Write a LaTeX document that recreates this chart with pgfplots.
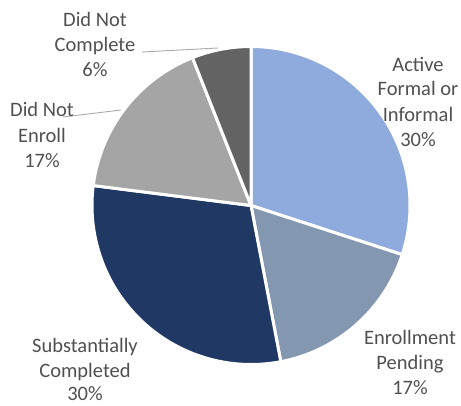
\documentclass[border=0pt]{standalone}
\usepackage{pgfplots}
\usepackage{pgfplotstable}
\pgfplotsset{compat=1.18}
\usepackage{fontspec}
\setmainfont{Carlito}
\definecolor{slice0}{HTML}{8FAADC}
\definecolor{slice1}{HTML}{8497B0}
\definecolor{slice2}{HTML}{203864}
\definecolor{slice3}{HTML}{A5A5A5}
\definecolor{slice4}{HTML}{636363}
\definecolor{txt}{HTML}{505050}
\pgfplotstableread{
label value
Active 30
Pending 17
Completed 30
NotEnroll 17
NotComplete 6
}\piedata
\begin{document}
\begin{tikzpicture}
\begin{axis}[
  scale only axis, width=461pt, height=405pt,
  xmin=0, xmax=461, ymin=0, ymax=405,
  hide axis, clip=false,
]
\path (axis cs:0,0) rectangle (axis cs:461,405);
\def\cum{0}
\pgfplotsforeachungrouped \i in {0,...,4} {
  \pgfplotstablegetelem{\i}{value}\of\piedata
  \let\v\pgfplotsretval
  \pgfmathsetmacro\sa{90-3.6*\cum}
  \pgfmathsetmacro\ea{\sa-3.6*\v}
  \edef\cmd{\noexpand\filldraw[fill=slice\i, draw=white, line width=3pt, line join=round]
    (axis cs:251,199.5) -- ++(\sa:159pt) arc[start angle=\sa, end angle=\ea, radius=159pt] -- cycle;}
  \cmd
  \pgfmathsetmacro\newcum{\cum+\v}
  \global\let\cum\newcum
}
\draw[color=black!33, line width=0.9pt] (axis cs:142,353) -- (axis cs:218,357);
\draw[color=black!33, line width=0.9pt] (axis cs:63,288) -- (axis cs:121,295);
\begin{scope}[every node/.style={anchor=base, text=txt, font=\fontsize{20.5}{25}\selectfont, inner sep=0pt}]
% Active
\node at (axis cs:418,333) {Active};
\node at (axis cs:418,309) {Formal or};
\node at (axis cs:418,283.5) {Informal};
\node at (axis cs:418,258) {30\%};
% Enrollment Pending
\node at (axis cs:410,61) {Enrollment};
\node at (axis cs:410,36) {Pending};
\node at (axis cs:410,11) {17\%};
% Substantially Completed
\node at (axis cs:85,53) {Substantially};
\node at (axis cs:85,28) {Completed};
\node at (axis cs:85,4.5) {30\%};
% Did Not Enroll
\node at (axis cs:42,288) {Did Not};
\node at (axis cs:42,262.5) {Enroll};
\node at (axis cs:42,237.5) {17\%};
% Did Not Complete
\node at (axis cs:95,378) {Did Not};
\node at (axis cs:95,353) {Complete};
\node at (axis cs:95,328) {6\%};
\end{scope}
\end{axis}
\end{tikzpicture}
\end{document}
